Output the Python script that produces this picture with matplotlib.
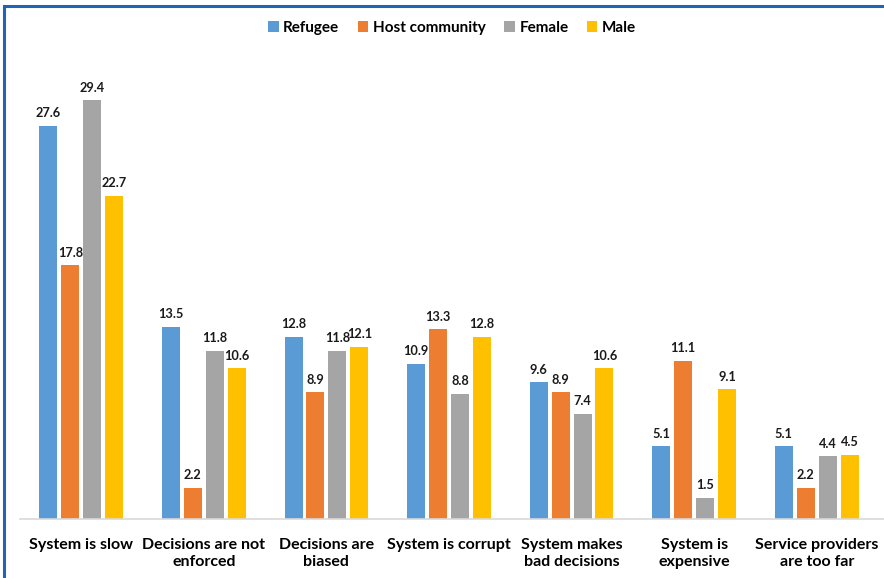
import matplotlib
matplotlib.use("Agg")
import matplotlib.pyplot as plt
import numpy as np
from matplotlib.patches import Rectangle

categories = ["System is slow", "Decisions are not\nenforced", "Decisions are\nbiased",
              "System is corrupt", "System makes\nbad decisions", "System is\nexpensive",
              "Service providers\nare too far"]
series_names = ["Refugee", "Host community", "Female", "Male"]
refugee = [27.6, 13.5, 12.8, 10.9, 9.6, 5.1, 5.1]
host = [17.8, 2.2, 8.9, 13.3, 8.9, 11.1, 2.2]
female = [29.4, 11.8, 11.8, 8.8, 7.4, 1.5, 4.4]
male = [22.7, 10.6, 12.1, 12.8, 10.6, 9.1, 4.5]
colors = ["#5B9BD5", "#ED7D31", "#A5A5A5", "#FFC000"]

plt.rcParams['font.family'] = ['Lato', 'DejaVu Sans']

W, H = 884, 578
fig = plt.figure(figsize=(W/100, H/100), dpi=100)
ax = fig.add_axes([20/W, (H-519)/H, (884-20)/W, (519-63)/H])

x = np.arange(len(categories))
step = 0.179
bw = 0.147
data = [refugee, host, female, male]
for i, (vals, name, c) in enumerate(zip(data, series_names, colors)):
    pos = x + (i - 1.5) * step
    bars = ax.bar(pos, vals, width=bw, color=c, label=name, zorder=2)
    for b, v in zip(bars, vals):
        ax.text(b.get_x() + b.get_width()/2, v + 0.45, f"{v:.1f}", ha="center", va="bottom",
                fontsize=9.2, fontweight="bold", color="#1a1a1a")

ax.set_xlim(-0.5, 6.549)
ax.set_ylim(0, 32)
ax.set_yticks([])
ax.set_xticks(x)
ax.set_xticklabels(categories, fontsize=11.5, fontweight="bold", color="#000000", linespacing=1.25)
ax.tick_params(axis="x", length=0, pad=14)
for s in ["top", "right", "left"]:
    ax.spines[s].set_visible(False)
ax.spines["bottom"].set_color("#D9D9D9")
ax.spines["bottom"].set_linewidth(1.2)

leg = fig.legend(loc="center", bbox_to_anchor=(452/W, 1 - 28/H), ncol=4, frameon=False,
                 prop={"weight": "bold", "size": 11}, handlelength=0.7, handleheight=0.7,
                 handletextpad=0.3, columnspacing=1.2)

fig.patches.append(Rectangle((4/W, -0.1), 1.2, 1 - 6/H + 0.1, transform=fig.transFigure,
                             fill=False, edgecolor="#2163B4", linewidth=2.2))

fig.savefig("out.png", dpi=100)
